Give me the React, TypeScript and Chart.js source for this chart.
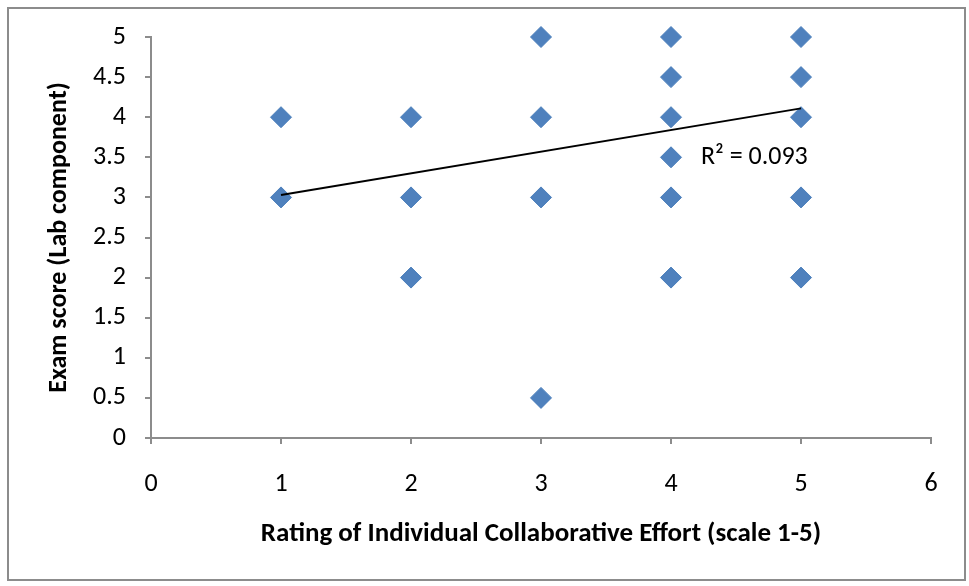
import React, { useEffect, useRef } from "react";
import { Chart, registerables } from "chart.js";

Chart.register(...registerables);

// Effort rating (x) and lab exam score (y) for each distinct response
const effortRatings = [1, 1, 2, 2, 2, 3, 3, 3, 3, 4, 4, 4, 4, 4, 4, 5, 5, 5, 5, 5];
const examScores = [4, 3, 4, 3, 2, 5, 4, 3, 0.5, 5, 4.5, 4, 3.5, 3, 2, 5, 4.5, 4, 3, 2];

// Linear trendline end points
const trendX = [1, 5];
const trendY = [3.03, 4.11];
const rSquaredLabel = "R\u00b2 = 0.093";
const labelAt = { x: 4.23, y: 3.5 };

const FONT = "Carlito, Calibri, Lato, 'Open Sans', sans-serif";
const FONT_SIZE = 26;
const AXIS_GREY = "#8c8c8c";

const frameAndLabel = {
  id: "frameAndLabel",
  afterDraw(chart: any) {
    const { ctx, scales } = chart;
    ctx.save();
    ctx.strokeStyle = AXIS_GREY;
    ctx.lineWidth = 2;
    ctx.strokeRect(8, 8, 957, 572);
    ctx.fillStyle = "#000";
    ctx.font = `${FONT_SIZE}px ${FONT}`;
    ctx.textAlign = "left";
    ctx.textBaseline = "middle";
    ctx.fillText(rSquaredLabel, scales.x.getPixelForValue(labelAt.x), scales.y.getPixelForValue(labelAt.y));
    ctx.restore();
  },
};

export default function App() {
  const ref = useRef<HTMLCanvasElement>(null);

  useEffect(() => {
    if (!ref.current) return;
    const chart = new Chart(ref.current, {
      type: "scatter",
      data: {
        datasets: [
          {
            type: "line",
            label: "Trend",
            data: trendX.map((x, i) => ({ x, y: trendY[i] })),
            borderColor: "#000",
            borderWidth: 2,
            pointRadius: 0,
            fill: false,
            clip: false,
          },
          {
            label: "Exam score",
            data: effortRatings.map((x, i) => ({ x, y: examScores[i] })),
            pointStyle: "rectRot",
            pointRadius: 10.5,
            pointHoverRadius: 10.5,
            backgroundColor: "#4F81BD",
            borderColor: "#4A7EBB",
            borderWidth: 1,
            clip: false,
          },
        ],
      },
      options: {
        responsive: false,
        animation: false,
        events: [],
        layout: { padding: { top: 37, right: 38, left: 0, bottom: 0 } },
        plugins: { legend: { display: false }, tooltip: { enabled: false } },
        scales: {
          x: {
            type: "linear",
            min: 0,
            max: 6,
            afterFit(scale: any) {
              scale.height = 148;
            },
            ticks: {
              stepSize: 1,
              color: "#000",
              padding: 25,
              font: { family: FONT, size: FONT_SIZE },
              callback: (v: any) => String(v),
            },
            grid: { drawOnChartArea: false, drawTicks: true, tickLength: 6, color: AXIS_GREY, lineWidth: 2 },
            border: { display: true, color: AXIS_GREY, width: 2 },
            title: {
              display: true,
              text: "Rating of Individual Collaborative Effort (scale 1-5)",
              color: "#000",
              font: { family: FONT, size: 27, weight: "bold" },
              padding: { top: 0, bottom: 36 },
            },
          },
          y: {
            type: "linear",
            min: 0,
            max: 5,
            afterFit(scale: any) {
              scale.width = 151;
            },
            ticks: {
              stepSize: 0.5,
              color: "#000",
              padding: 19,
              font: { family: FONT, size: FONT_SIZE },
              callback: (v: any) => String(v),
            },
            grid: { drawOnChartArea: false, drawTicks: true, tickLength: 6, color: AXIS_GREY, lineWidth: 2 },
            border: { display: true, color: AXIS_GREY, width: 2 },
            title: {
              display: true,
              text: "Exam score (Lab component)",
              color: "#000",
              font: { family: FONT, size: FONT_SIZE, weight: "bold" },
              padding: { top: 44, bottom: 0 },
            },
          },
        },
      },
      plugins: [frameAndLabel],
    } as any);
    return () => chart.destroy();
  }, []);

  return (
    <div style={{ position: "fixed", left: 0, top: 0, width: 969, height: 586, background: "#fff" }}>
      <canvas ref={ref} width={969} height={586} style={{ display: "block" }} />
    </div>
  );
}
